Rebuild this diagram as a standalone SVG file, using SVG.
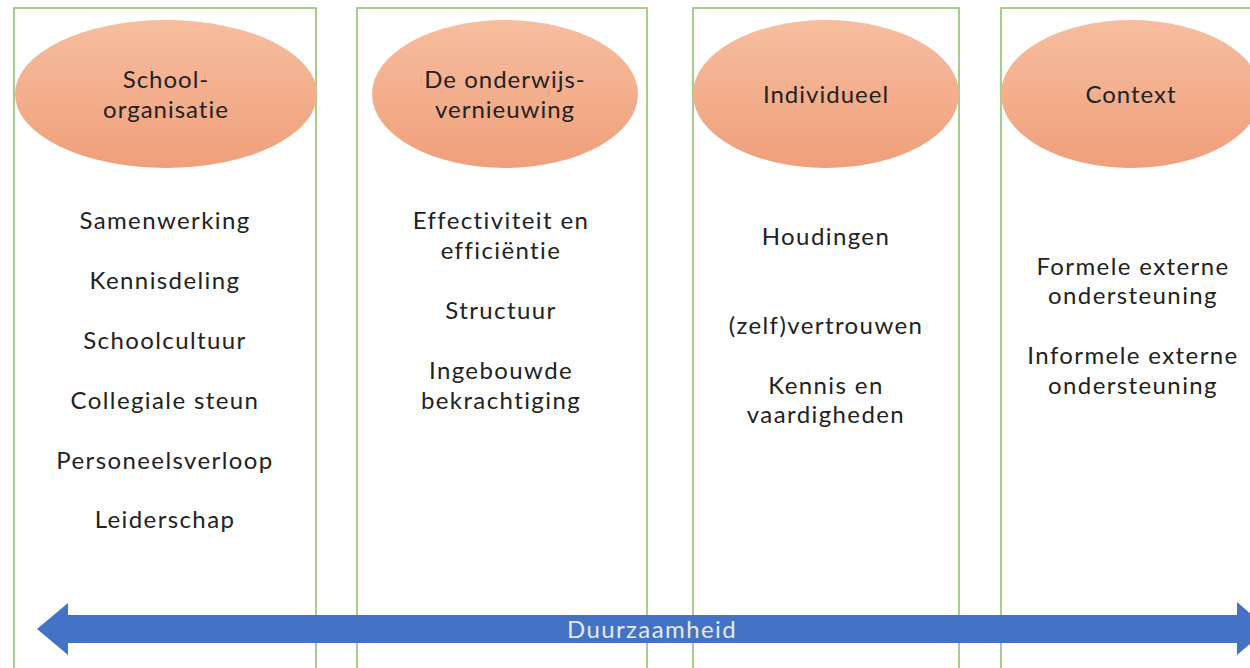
<svg xmlns="http://www.w3.org/2000/svg" width="1250" height="668" viewBox="0 0 1250 668">
<defs>
<linearGradient id="og" x1="0" y1="0" x2="0" y2="1">
<stop offset="0" stop-color="#f6bea0"/>
<stop offset="1" stop-color="#f09f7a"/>
</linearGradient>
<style>
.col{fill:#fff;stroke:#8cc56c;stroke-width:1.6}
.ell{fill:url(#og);stroke:none}
.t{font-family:Lato,"Open Sans","Liberation Sans",sans-serif;font-size:24px;letter-spacing:1.4px;fill:#222;text-anchor:middle}
.h{letter-spacing:1px}
.a{font-family:Lato,"Open Sans","Liberation Sans",sans-serif;font-size:24px;letter-spacing:1.4px;fill:#e3eaf7;text-anchor:middle}
</style>
</defs>
<rect width="1250" height="668" fill="#fff"/>
<g id="col1">
<rect class="col" x="14" y="8" width="302" height="680"/>
<ellipse class="ell" cx="166" cy="94" rx="151" ry="74"/>
<text class="t h" x="166" y="88">School-<tspan x="166" dy="30">organisatie</tspan></text>
<text class="t" x="165" y="229">Samenwerking</text>
<text class="t" x="165" y="289">Kennisdeling</text>
<text class="t" x="165" y="349">Schoolcultuur</text>
<text class="t" x="165" y="409">Collegiale steun</text>
<text class="t" x="165" y="469">Personeelsverloop</text>
<text class="t" x="165" y="528">Leiderschap</text>
</g>
<g id="col2">
<rect class="col" x="357" y="8" width="290" height="680"/>
<ellipse class="ell" cx="505" cy="94" rx="133" ry="74"/>
<text class="t h" x="505" y="88">De onderwijs-<tspan x="505" dy="30">vernieuwing</tspan></text>
<text class="t" x="501" y="229">Effectiviteit en<tspan x="501" dy="30">efficiëntie</tspan></text>
<text class="t" x="501" y="319">Structuur</text>
<text class="t" x="501" y="379">Ingebouwde<tspan x="501" dy="30">bekrachtiging</tspan></text>
</g>
<g id="col3">
<rect class="col" x="693" y="8" width="266" height="680"/>
<ellipse class="ell" cx="826" cy="94" rx="133" ry="74"/>
<text class="t h" x="826" y="103">Individueel</text>
<text class="t" x="826" y="245">Houdingen</text>
<text class="t" x="826" y="334">(zelf)vertrouwen</text>
<text class="t" x="826" y="394">Kennis en<tspan x="826" dy="29">vaardigheden</tspan></text>
</g>
<g id="col4">
<rect class="col" x="1001" y="8" width="300" height="680"/>
<ellipse class="ell" cx="1131" cy="94" rx="130" ry="74"/>
<text class="t h" x="1131" y="103">Context</text>
<text class="t" x="1133" y="275">Formele externe<tspan x="1133" dy="29">ondersteuning</tspan></text>
<text class="t" x="1133" y="364">Informele externe<tspan x="1133" dy="30">ondersteuning</tspan></text>
</g>
<g id="connectors">
<polygon points="37,629 68,603 68,615 1237,615 1237,602 1268,629 1237,655 1237,643 68,643 68,655" fill="#4472c4"/>
<text class="a" x="652" y="638">Duurzaamheid</text>
</g>
</svg>
